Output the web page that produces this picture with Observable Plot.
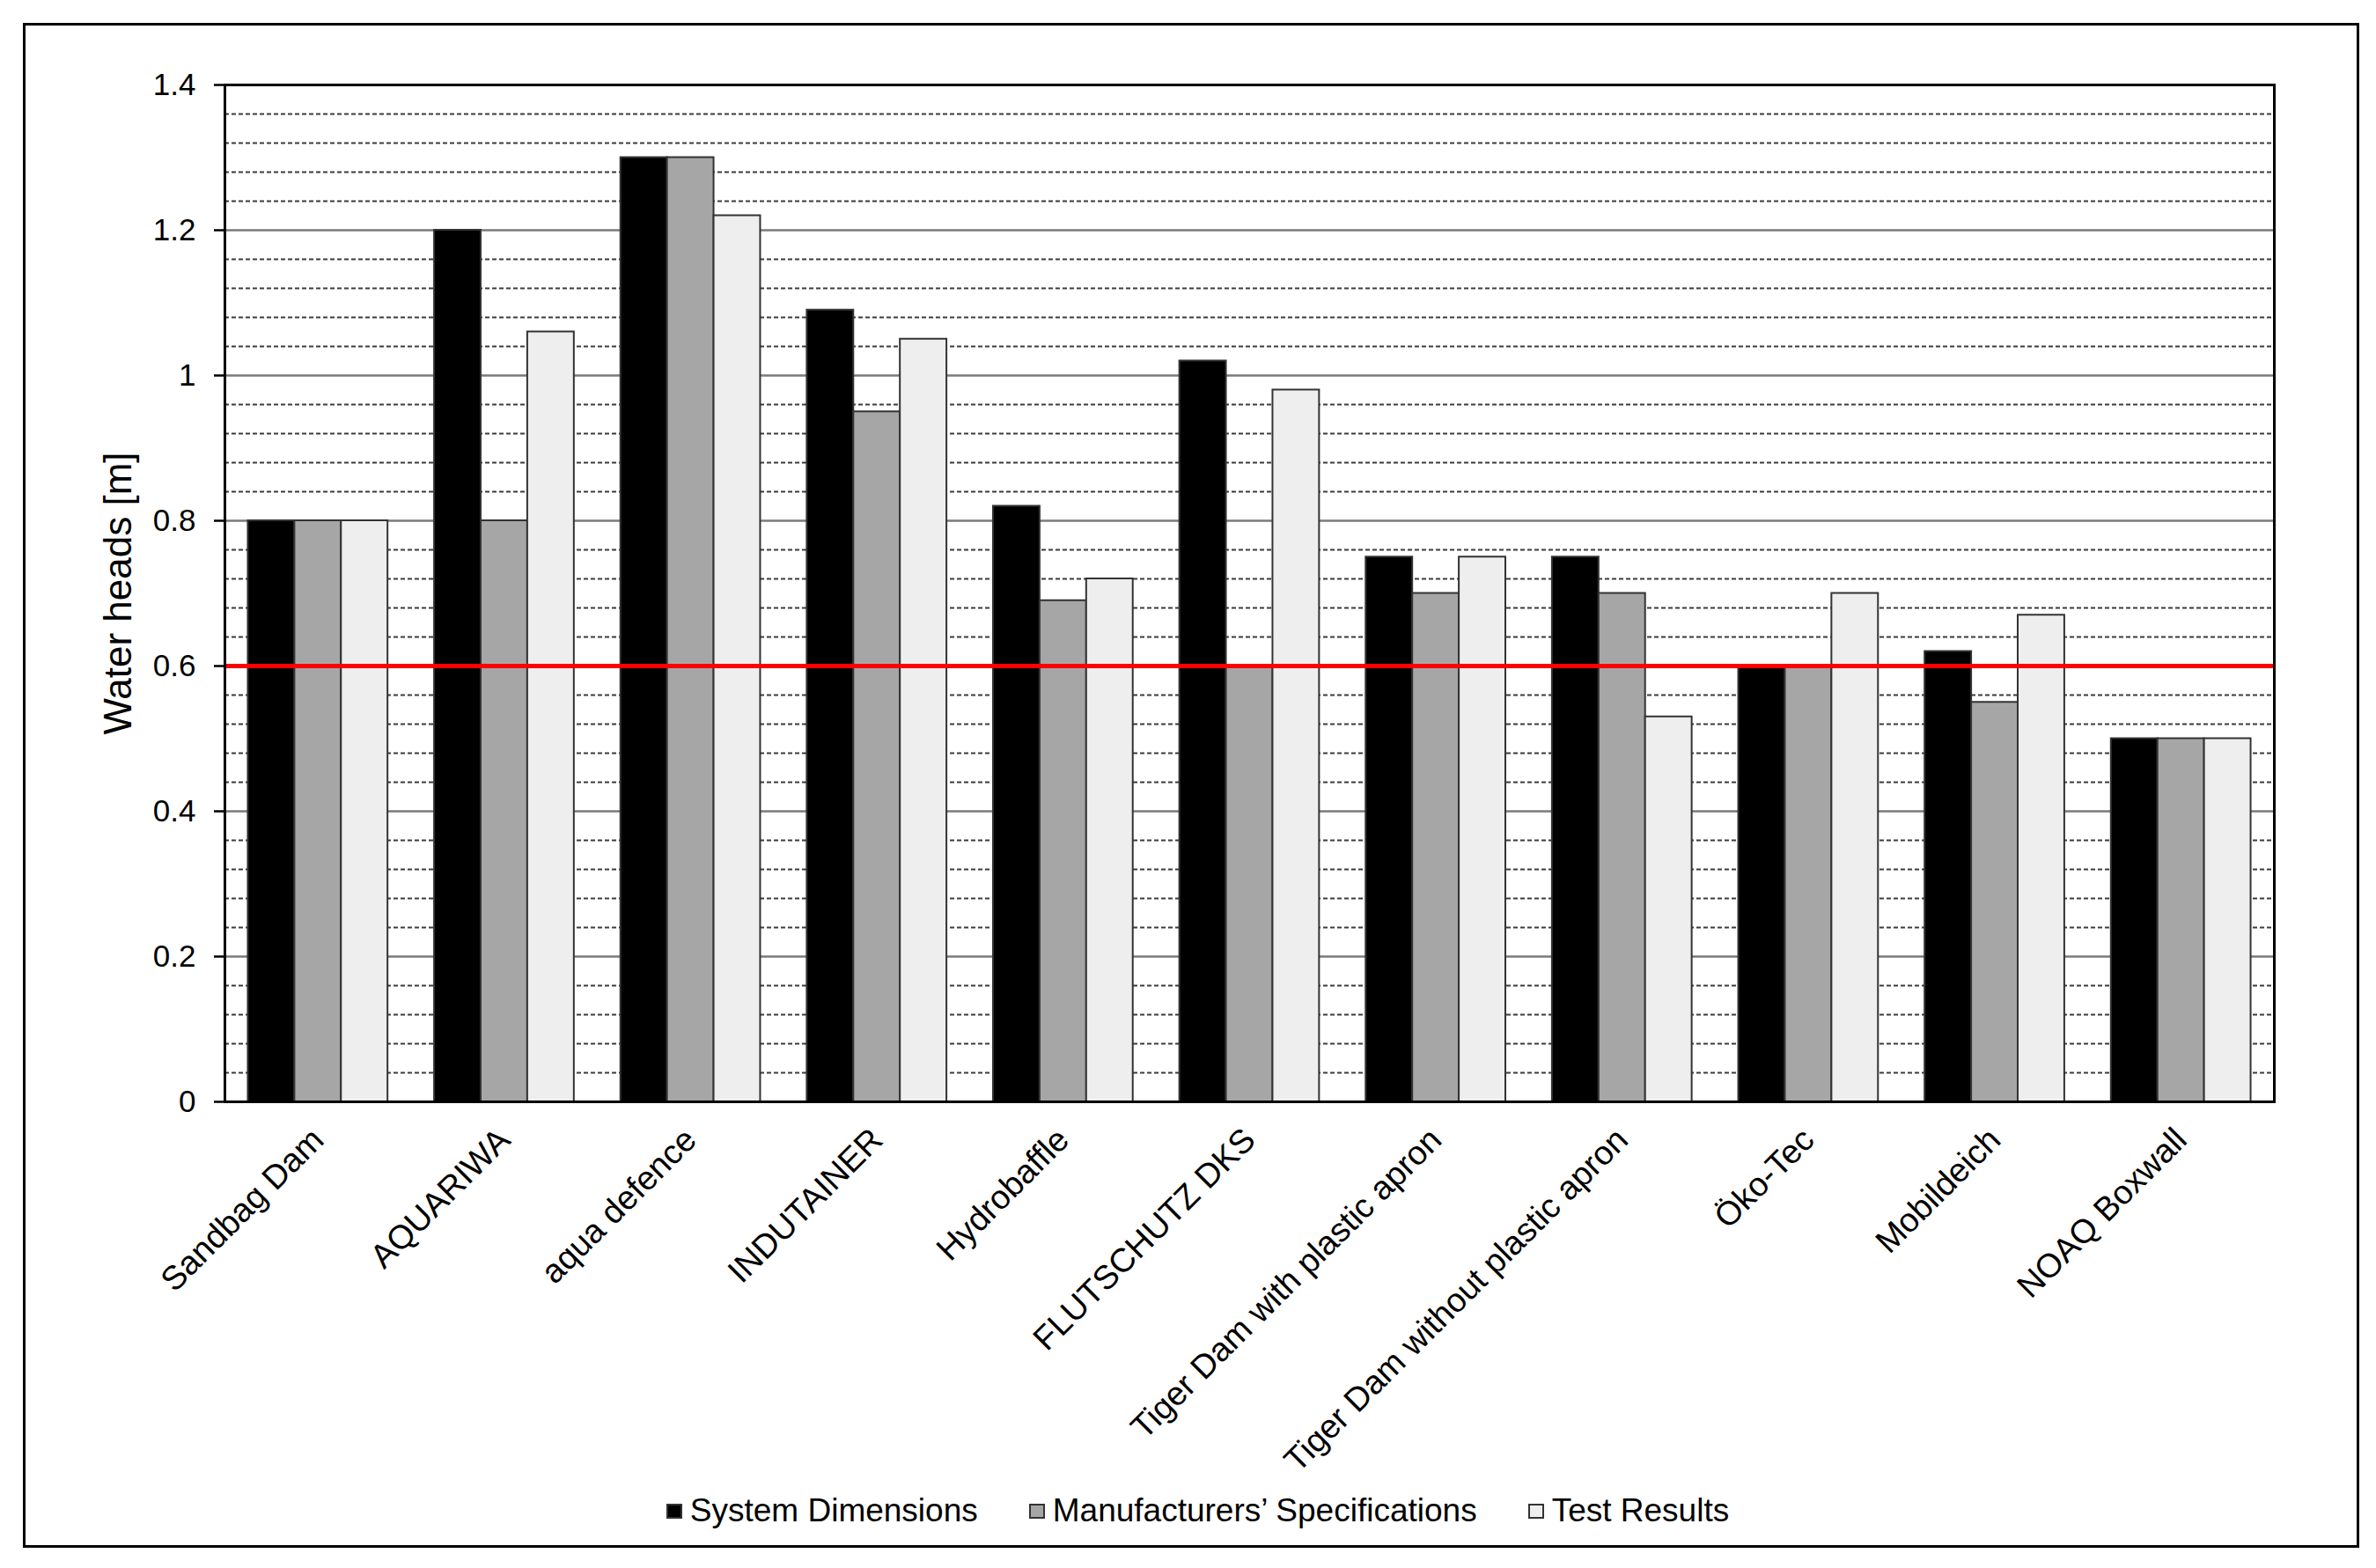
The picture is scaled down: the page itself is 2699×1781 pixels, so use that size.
<!DOCTYPE html>
<html>
<head>
<meta charset="utf-8">
<script src="https://cdn.jsdelivr.net/npm/d3@7"></script>
<script src="https://cdn.jsdelivr.net/npm/@observablehq/plot@0.6"></script>
<style>
  html, body { margin: 0; padding: 0; background: #fff; overflow: hidden; }
  #page { position: relative; width: 2699px; height: 1781px; font-family: "Liberation Sans", Arial, sans-serif; }
  #border { position: absolute; left: 26px; top: 26px; width: 2654px; height: 1732px; box-sizing: border-box; border: 3px solid #000; pointer-events: none; }
  #chart svg { display: block; }
  #legend { margin-top: 35px; height: 42px; display: flex; justify-content: center; align-items: center; padding-left: 22px; font-size: 37px; line-height: 42px; color: #000; }
  .item { display: flex; align-items: center; margin: 0 29px; }
  .swatch { width: 18px; height: 17px; box-sizing: border-box; border: 2px solid #333; margin-right: 9px; }
</style>
</head>
<body>
<div id="page">
  <div id="chart"></div>
  <div id="legend"></div>
  <div id="border"></div>
</div>
<script>
// ---- data ----
const categories = ["Sandbag Dam", "AQUARIWA", "aqua defence", "INDUTAINER", "Hydrobaffle", "FLUTSCHUTZ DKS",
  "Tiger Dam with plastic apron", "Tiger Dam without plastic apron", "Öko-Tec", "Mobildeich", "NOAQ Boxwall"];
const seriesNames = ["System Dimensions", "Manufacturers’ Specifications", "Test Results"];
const systemDimensions   = [0.80, 1.20, 1.30, 1.09, 0.82, 1.02, 0.75, 0.75, 0.60, 0.62, 0.50];
const manufacturersSpecs = [0.80, 0.80, 1.30, 0.95, 0.69, 0.60, 0.70, 0.70, 0.60, 0.55, 0.50];
const testResults        = [0.80, 1.06, 1.22, 1.05, 0.72, 0.98, 0.75, 0.53, 0.70, 0.67, 0.50];
const referenceLine = [0.6];
const yTicks = [0, 0.2, 0.4, 0.6, 0.8, 1.0, 1.2, 1.4];
const yTickLabels = ["0", "0.2", "0.4", "0.6", "0.8", "1", "1.2", "1.4"];
const seriesColors = ["#000000", "#a6a6a6", "#eeeeee"];
const yLabel = "Water heads [m]";

// ---- derived tables ----
const seriesValues = [systemDimensions, manufacturersSpecs, testResults];
const rows = categories.flatMap((c, i) => seriesValues.map((arr, j) => ({
  category: c, index: i, slot: j, series: seriesNames[j], value: arr[i]
})));
const majorGrid = yTicks.slice(1, -1);
const minorGrid = d3.range(1, 35).filter(k => k % 5 !== 0).map(k => k * 0.04);
const xTickPositions = categories.map((c, i) => i + 0.5);

const W = 2699, H = 1660;
const chart = Plot.plot({
  width: W,
  height: H,
  marginLeft: 255,
  marginRight: 116,
  marginTop: 96,
  marginBottom: 409,
  style: { fontFamily: "'Liberation Sans', Arial, sans-serif", fontSize: "35px", color: "#000", background: "#fff", overflow: "visible" },
  x: { domain: [0, categories.length], axis: null },
  y: { domain: [0, 1.4], axis: null },
  color: { domain: seriesNames, range: seriesColors },
  marks: [
    Plot.ruleY(minorGrid, { stroke: "#3c3c3c", strokeWidth: 2, strokeDasharray: "5,3" }),
    Plot.ruleY(majorGrid, { stroke: "#7a7a7a", strokeWidth: 2.5 }),
    Plot.rectY(rows, {
      x1: d => d.index + 0.125 + d.slot * 0.25,
      x2: d => d.index + 0.125 + (d.slot + 1) * 0.25,
      y: "value",
      fill: "series",
      stroke: "#333",
      strokeWidth: 2
    }),
    Plot.ruleY(referenceLine, { stroke: "#ff0000", strokeWidth: 5 }),
    Plot.frame({ stroke: "#000", strokeWidth: 3 }),
    Plot.axisY(yTicks, {
      tickFormat: d => yTickLabels[yTicks.indexOf(d)],
      tickSize: 12, tickPadding: 21, strokeWidth: 2.5, fontSize: 35, label: null
    }),
    Plot.axisX(xTickPositions, {
      tickFormat: d => categories[Math.floor(d)],
      tickRotate: -45, tickSize: 0, tickPadding: 37, fontSize: 38, label: null
    }),
    Plot.text([yLabel], { text: d => d, frameAnchor: "left", textAnchor: "middle", dx: -121, rotate: -90, fontSize: 44 })
  ]
});
document.getElementById("chart").appendChild(chart);

// ---- legend ----
const legend = document.getElementById("legend");
seriesNames.forEach((name, j) => {
  const item = document.createElement("div");
  item.className = "item";
  const sw = document.createElement("span");
  sw.className = "swatch";
  sw.style.background = seriesColors[j];
  const label = document.createElement("span");
  label.textContent = name;
  item.appendChild(sw);
  item.appendChild(label);
  legend.appendChild(item);
});
</script>
</body>
</html>
